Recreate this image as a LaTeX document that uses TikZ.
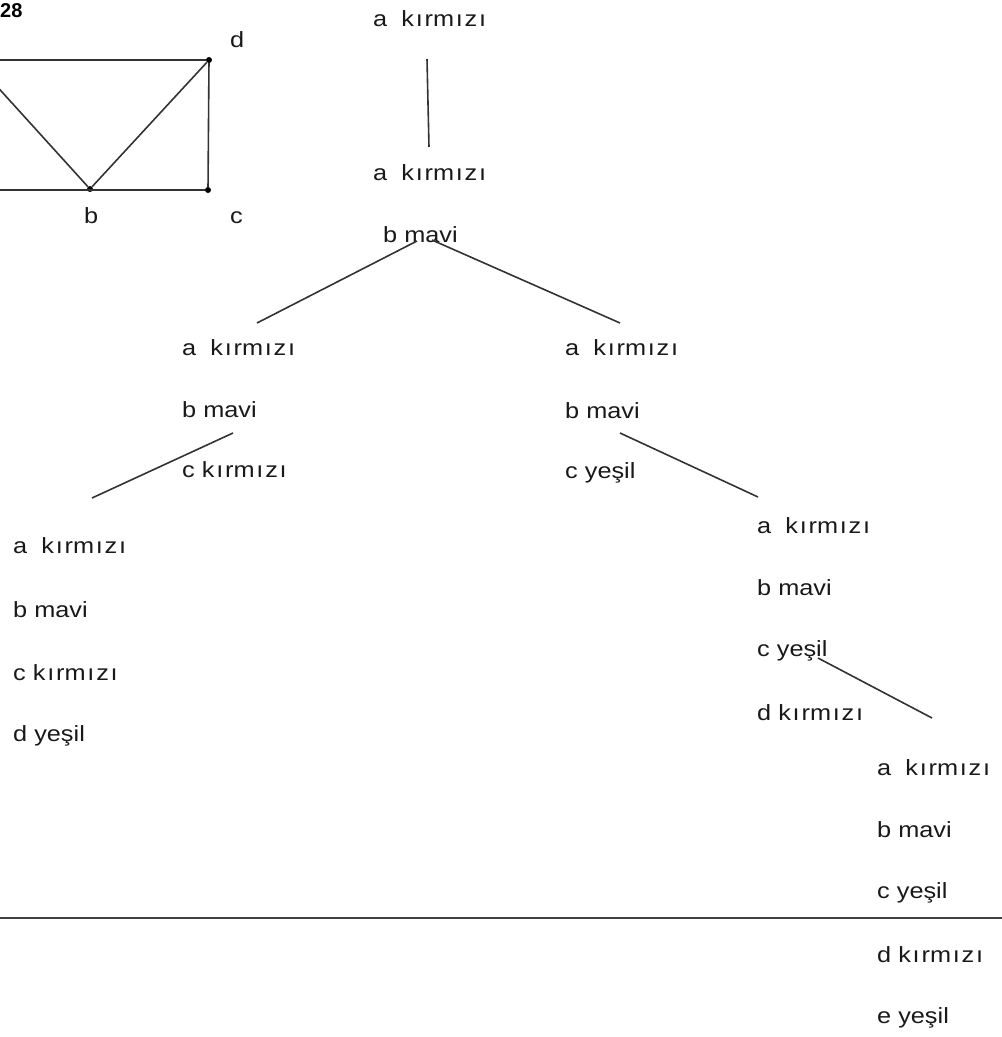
\documentclass[tikz,border=0pt]{standalone}
\usepackage{fontspec}
\setmainfont{Liberation Sans}[FakeStretch=1.15]
\newfontfamily\numfont{Liberation Sans}
\newcommand\dli{\kern1.8pt ı\kern1.8pt}
\newcommand\kir{k\dli rm\dli z\dli}
\begin{document}
\begin{tikzpicture}[x=1pt,y=-1pt,
  lbl/.style={anchor=base west,inner sep=0pt,font=\fontsize{22}{26}\selectfont,text=black!90},
  edge/.style={draw=black!80,line width=1.6pt},
  vtx/.style={circle,fill=black,inner sep=0pt,minimum size=6pt}]
\useasboundingbox (0,0) rectangle (1002,1037);
\clip (0,0) rectangle (1002,1037);
% top-left graph
\node[anchor=base west,inner sep=0pt,font=\numfont\fontsize{20}{24}\selectfont\bfseries] (num) at (0,17) {28};
\node[vtx] (vd) at (209,60) {};
\node[vtx] (vc) at (208,190) {};
\node[vtx] (vb) at (90,189) {};
\coordinate (va) at (-27,60);
\coordinate (vl) at (-27,190);
\draw[edge] (va) -- (vd) -- (vc) -- (vl);
\draw[edge] (va) -- (vb) -- (vd);
\node[lbl] (ld) at (230,47) {d};
\node[lbl] (lb) at (84,223) {b};
\node[lbl] (lc) at (230,223) {c};
% root
\node[lbl] (r) at (373,26) {a~~\kir};
% level 1
\node[lbl] (p1) at (373,180) {a~~\kir};
\node[lbl] (p2) at (383,242) {b mavi};
% level 2 left
\node[lbl] (l1) at (182,355) {a~~\kir};
\node[lbl] (l2) at (182,417) {b mavi};
\node[lbl] (l3) at (182,477) {c \kir};
% level 2 right
\node[lbl] (m1) at (565,355) {a~~\kir};
\node[lbl] (m2) at (565,418) {b mavi};
\node[lbl] (m3) at (565,478) {c yeşil};
% level 3 left
\node[lbl] (q1) at (13,553) {a~~\kir};
\node[lbl] (q2) at (13,617) {b mavi};
\node[lbl] (q3) at (13,680) {c \kir};
\node[lbl] (q4) at (13,741) {d yeşil};
% level 3 right
\node[lbl] (s1) at (757,533) {a~~\kir};
\node[lbl] (s2) at (757,595) {b mavi};
\node[lbl] (s3) at (757,656) {c yeşil};
\node[lbl] (s4) at (757,720) {d \kir};
% level 4
\node[lbl] (t1) at (877,775) {a~~\kir};
\node[lbl] (t2) at (877,837) {b mavi};
\node[lbl] (t3) at (877,898) {c yeşil};
\node[lbl] (t4) at (877,962) {d \kir};
\node[lbl] (t5) at (877,1023) {e yeşil};
% connectors
\coordinate (e1a) at (427,59);   \coordinate (e1b) at (429,147);
\coordinate (e2a) at (417,241);  \coordinate (e2b) at (257,323);
\coordinate (e3a) at (432,240);  \coordinate (e3b) at (620,323);
\coordinate (e4a) at (233,433);  \coordinate (e4b) at (92,498);
\coordinate (e5a) at (620,433);  \coordinate (e5b) at (758,497);
\coordinate (e6a) at (818,658);  \coordinate (e6b) at (932,718);
\draw[edge] (e1a) -- (e1b);
\draw[edge] (e2a) -- (e2b);
\draw[edge] (e3a) -- (e3b);
\draw[edge] (e4a) -- (e4b);
\draw[edge] (e5a) -- (e5b);
\draw[edge] (e6a) -- (e6b);
% horizontal rule
\coordinate (h1) at (0,918); \coordinate (h2) at (1002,918);
\draw[draw=black!75,line width=2.2pt] (h1) -- (h2);
\end{tikzpicture}
\end{document}
